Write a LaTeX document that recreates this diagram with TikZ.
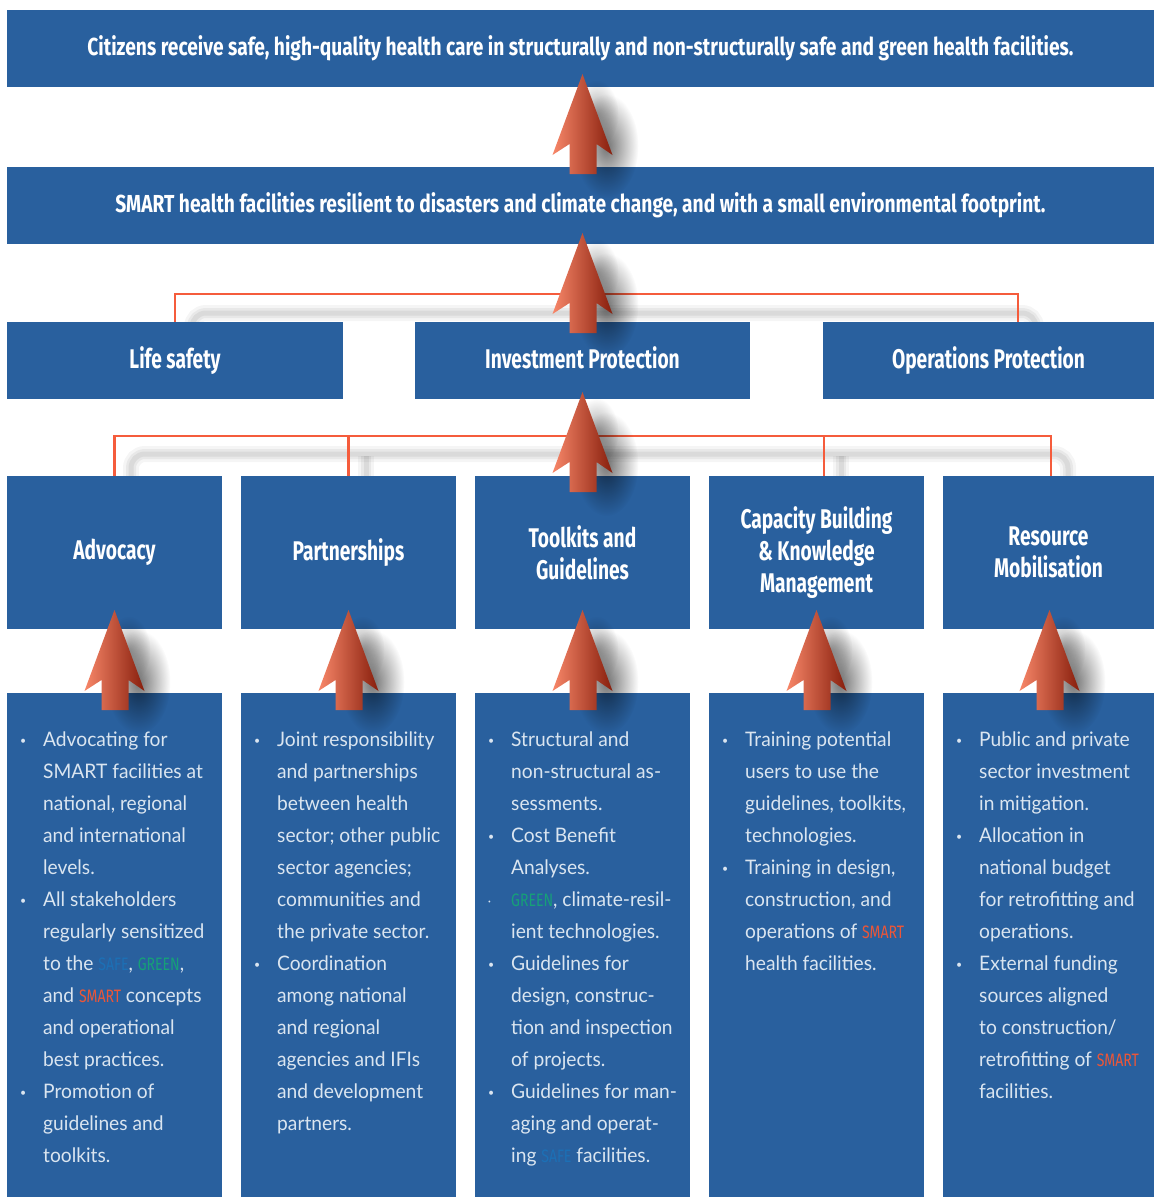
\documentclass[tikz,border=0pt]{standalone}
\usepackage{fontspec}
\setmainfont[FakeStretch=0.96]{Lato}
\newfontfamily\headfont[FakeStretch=0.78]{Fira Sans}
\newfontfamily\labelfont[FakeStretch=0.71]{Fira Sans}
\usetikzlibrary{calc,fadings}
\tikzfading[name=softblob, inner color=transparent!0, outer color=transparent!100]
\definecolor{boxblue}{RGB}{41,96,158}
\definecolor{lineorange}{RGB}{245,92,60}
\definecolor{textlight}{RGB}{218,229,240}
\definecolor{safeblue}{RGB}{28,112,182}
\definecolor{greenword}{RGB}{22,160,120}
\definecolor{smartred}{RGB}{236,86,56}
\definecolor{arrowlight}{RGB}{248,135,105}
\definecolor{arrowmid}{RGB}{252,88,46}
\definecolor{arrowdark}{RGB}{135,30,12}
\newcommand\bl{\makebox[23pt][l]{\raisebox{2pt}{\fontsize{11}{11}\selectfont•}}}
\newcommand\tbl{\makebox[23pt][l]{\raisebox{3pt}{\fontsize{5}{5}\selectfont•}}}
\newcommand\ind{\hspace*{23pt}}
\newcommand\wSAFE{{\headfont\fontsize{18}{18}\selectfont\color{safeblue}SAFE}}
\newcommand\wGREEN{{\headfont\fontsize{18}{18}\selectfont\color{greenword}GREEN}}
\newcommand\wSMART{{\headfont\fontsize{18}{18}\selectfont\color{smartred}SMART}}
\tikzset{
  box/.style={fill=boxblue, inner sep=0pt, text=white, align=center,
    font=\headfont\bfseries\fontsize{24.6}{32}\selectfont},
  bigbox/.style={box, font=\labelfont\bfseries\fontsize{27}{32}\selectfont},
  panel/.style={fill=boxblue, inner sep=0pt},
  body/.style={text=textlight, font=\fontsize{20}{32}\selectfont, align=left,
    inner sep=0pt, anchor=north west},
  conn/.style={draw=lineorange, line width=2.4pt},
  connshadow/.style={draw=black, draw opacity=#1, rounded corners=14pt},
  pics/uparrow/.style={code={
    \fill[black, opacity=0.55, path fading=softblob] (24,72) ellipse [x radius=32pt, y radius=52pt];
    \fill[black, opacity=0.35, path fading=softblob] (14,40) ellipse [x radius=22pt, y radius=34pt];
    \shade[left color=arrowlight, middle color=arrowmid, right color=arrowdark]
        (0,0) -- (30,81) -- (14,70) -- (14,100) -- (-13,100) -- (-13,70) -- (-30,81) -- cycle;
  }}
}
\begin{document}
\begin{tikzpicture}[x=1pt,y=-1pt]
\useasboundingbox[fill=white] (0,0) rectangle (1154,1197);

% connector shadows
\foreach \o/\w in {0.04/16, 0.05/10, 0.06/5}{
  \draw[connshadow=\o, line width=\w pt] (192,330) -- (192,313) -- (1036,313) -- (1036,330);
  \draw[connshadow=\o, line width=\w pt] (131,482) -- (131,454) -- (1068,454) -- (1068,482);
  \draw[connshadow=\o, line width=\w pt] (366,482) -- (366,456);
  \draw[connshadow=\o, line width=\w pt] (841,482) -- (841,456);
}

% boxes
\node[box, minimum width=1147pt, minimum height=77pt] (goal) at (580.5,48.5)
  {Citizens receive safe, high-quality health care in structurally and non-structurally safe and green health facilities.};
\node[box, minimum width=1147pt, minimum height=77pt] (smart) at (580.5,205.5)
  {SMART health facilities resilient to disasters and climate change, and with a small environmental footprint.};

\node[bigbox, minimum width=336pt, minimum height=77pt] (life) at (175,360.5) {Life safety};
\node[bigbox, minimum width=335pt, minimum height=77pt] (inv) at (582.5,360.5) {Investment Protection\vphantom{y}};
\node[bigbox, minimum width=331pt, minimum height=77pt] (ops) at (988.5,360.5) {Operations Protection};

\node[bigbox, minimum width=215pt, minimum height=153pt] (adv) at (114.5,552.5) {Advocacy};
\node[bigbox, minimum width=215pt, minimum height=153pt] (part) at (348.5,552.5) {Partnerships};
\node[bigbox, minimum width=215pt, minimum height=153pt] (tool) at (582.5,552.5) {Toolkits and\\Guidelines};
\node[bigbox, minimum width=215pt, minimum height=153pt] (cap) at (816.5,552.5) {Capacity Building\\\& Knowledge\\Management};
\node[bigbox, minimum width=211pt, minimum height=153pt] (res) at (1048.5,552.5) {Resource\\Mobilisation};

% connectors
\draw[conn] (life.north) -- ++(0,-28) -| ([xshift=29.5pt]ops.north);
\draw[conn] (adv.north) -- ++(0,-40) -| ([xshift=2.5pt]res.north);
\draw[conn] (part.north) -- ++(0,-40);
\draw[conn] ([xshift=7.5pt]cap.north) -- ++(0,-40);

% panels
\node[panel, minimum width=215pt, minimum height=504pt] (advp) at (114.5,945) {};
\node[panel, minimum width=215pt, minimum height=504pt] (partp) at (348.5,945) {};
\node[panel, minimum width=215pt, minimum height=504pt] (toolp) at (582.5,945) {};
\node[panel, minimum width=215pt, minimum height=504pt] (capp) at (816.5,945) {};
\node[panel, minimum width=211pt, minimum height=504pt] (resp) at (1048.5,945) {};

% big arrows
\pic at (582.5,74) {uparrow};
\pic at (582.5,233) {uparrow};
\pic at (582.5,392) {uparrow};
\pic at (114.5,610) {uparrow};
\pic at (348.5,610) {uparrow};
\pic at (582.5,610) {uparrow};
\pic at (816.5,610) {uparrow};
\pic at (1049.5,610) {uparrow};

% texts
\node[body] (advt) at (20,732) {\bl Advocating for\\
\ind SMART facilities at\\
\ind national, regional\\
\ind and international\\
\ind levels.\\
\bl All stakeholders\\
\ind regularly sensitized\\
\ind to the \wSAFE, \wGREEN,\\
\ind and \wSMART{} concepts\\
\ind and operational\\
\ind best practices.\\
\bl Promotion of\\
\ind guidelines and\\
\ind toolkits.};

\node[body] (partt) at (254,732) {\bl Joint responsibility\\
\ind and partnerships\\
\ind between health\\
\ind sector; other public\\
\ind sector agencies;\\
\ind communities and\\
\ind the private sector.\\
\bl Coordination\\
\ind among national\\
\ind and regional\\
\ind agencies and IFIs\\
\ind and development\\
\ind partners.};

\node[body] (toolt) at (488,732) {\bl Structural and\\
\ind non-structural as-\\
\ind sessments.\\
\bl Cost Benefit\\
\ind Analyses.\\
\tbl \wGREEN, climate-resil-\\
\ind ient technologies.\\
\bl Guidelines for\\
\ind design, construc-\\
\ind tion and inspection\\
\ind of projects.\\
\bl Guidelines for man-\\
\ind aging and operat-\\
\ind ing \wSAFE{} facilities.};

\node[body] (capt) at (722,732) {\bl Training potential\\
\ind users to use the\\
\ind guidelines, toolkits,\\
\ind technologies.\\
\bl Training in design,\\
\ind construction, and\\
\ind operations of \wSMART\\
\ind health facilities.};

\node[body] (rest) at (956,732) {\bl Public and private\\
\ind sector investment\\
\ind in mitigation.\\
\bl Allocation in\\
\ind national budget\\
\ind for retrofitting and\\
\ind operations.\\
\bl External funding\\
\ind sources aligned\\
\ind to construction/\\
\ind retrofitting of \wSMART\\
\ind facilities.};
\end{tikzpicture}
\end{document}
